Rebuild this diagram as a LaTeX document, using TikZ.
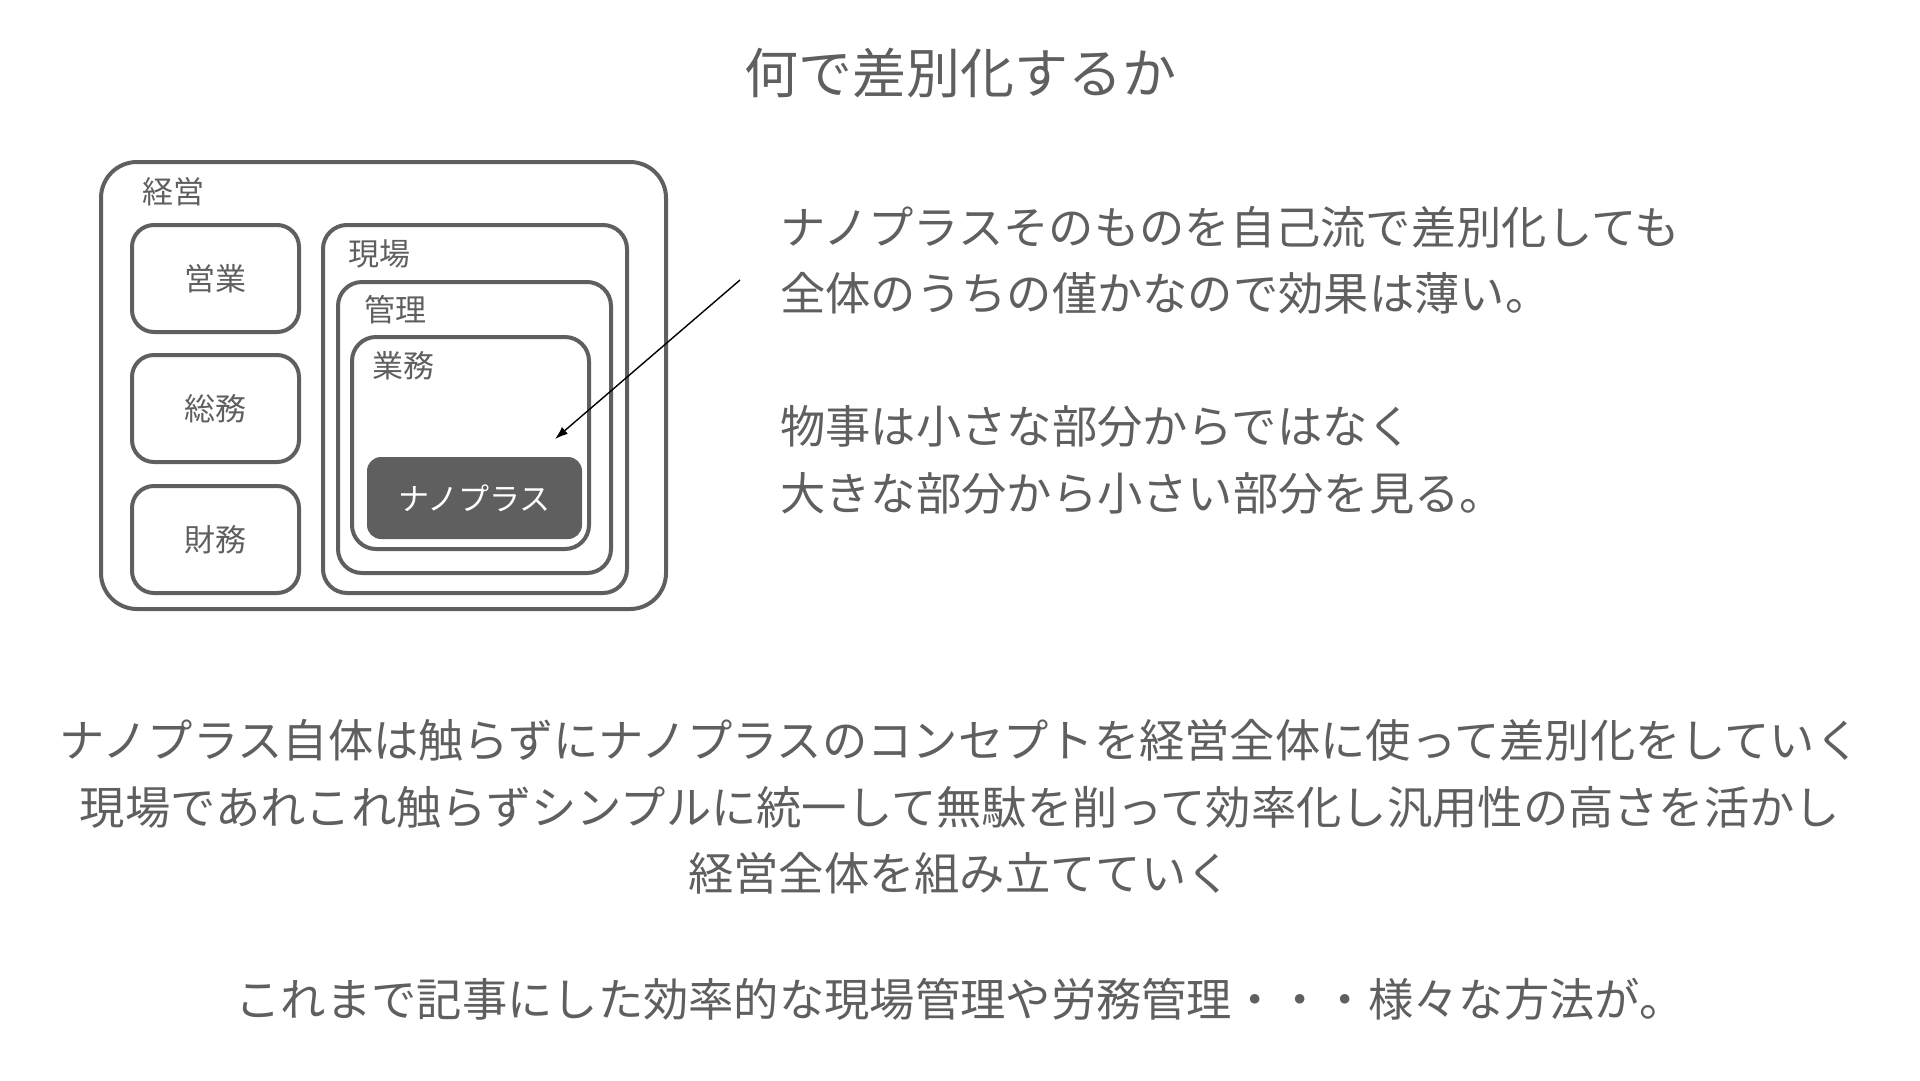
\documentclass[tikz,border=0pt]{standalone}
\usepackage{fontspec}
\setmainfont{Noto Sans CJK JP}
\usetikzlibrary{arrows.meta}
\definecolor{ink}{HTML}{5F5F5F}
\tikzset{
  frame/.style={draw=ink,line width=4pt,rounded corners=24pt,inner sep=0pt,outer sep=0pt},
  dept/.style={frame,rounded corners=22pt,minimum width=167pt,minimum height=107pt,text=ink,font=\fontsize{31}{31}\selectfont},
  tag/.style={anchor=west,inner sep=0pt,text=ink,font=\fontsize{31}{31}\selectfont},
  body/.style={inner sep=0pt,text=ink,font=\fontsize{45.3}{66.5}\selectfont},
}
\begin{document}
\begin{tikzpicture}[x=1pt,y=-1pt]
\useasboundingbox (0,0) rectangle (1920,1080);
\node[text=ink,font=\fontsize{54}{54}\selectfont] (title) at (960,73) {何で差別化するか};
% organisation boxes
\node[frame,rounded corners=36pt,minimum width=565pt,minimum height=447pt] (keiei) at (383.5,385.5) {};
\node[dept] (eigyo) at (215.5,278.5) {営業};
\node[dept] (somu) at (215.5,408.5) {総務};
\node[dept] (zaimu) at (215.5,539.5) {財務};
\node[frame,minimum width=304pt,minimum height=368pt] (genba) at (475,409) {};
\node[frame,minimum width=273pt,minimum height=291pt] (kanri) at (474.5,427.5) {};
\node[frame,minimum width=237pt,minimum height=212pt] (gyomu) at (470.5,443) {};
\node[fill=ink,rounded corners=14pt,minimum width=215pt,minimum height=82pt,inner sep=0pt,
  text=white,font=\fontsize{31}{31}\selectfont] (nano) at (474.5,498) {ナノプラス};
\node[tag] (keieiL) at (142,192) {経営};
\node[tag] (genbaL) at (348,254) {現場};
\node[tag] (kanriL) at (364,310) {管理};
\node[tag] (gyomuL) at (372,366) {業務};
% pointer
\coordinate (hint) at (740,280);
\coordinate (aim) at (555,439);
\draw[-{Latex[length=13pt,width=9pt]},line width=1.4pt] (hint) -- (aim);
% text
\node[body,anchor=west,align=left] (note1) at (780,260.5) {ナノプラスそのものを自己流で差別化しても\\全体のうちの僅かなので効果は薄い。};
\node[body,anchor=west,align=left] (note2) at (780,460) {物事は小さな部分からではなく\\大きな部分から小さい部分を見る。};
\node[body,align=center] (point) at (960,807) {ナノプラス自体は触らずにナノプラスのコンセプトを経営全体に使って差別化をしていく\\現場であれこれ触らずシンプルに統一して無駄を削って効率化し汎用性の高さを活かし\\経営全体を組み立てていく};
\node[body] (close) at (960,999) {これまで記事にした効率的な現場管理や労務管理・・・様々な方法が。};
\end{tikzpicture}
\end{document}
